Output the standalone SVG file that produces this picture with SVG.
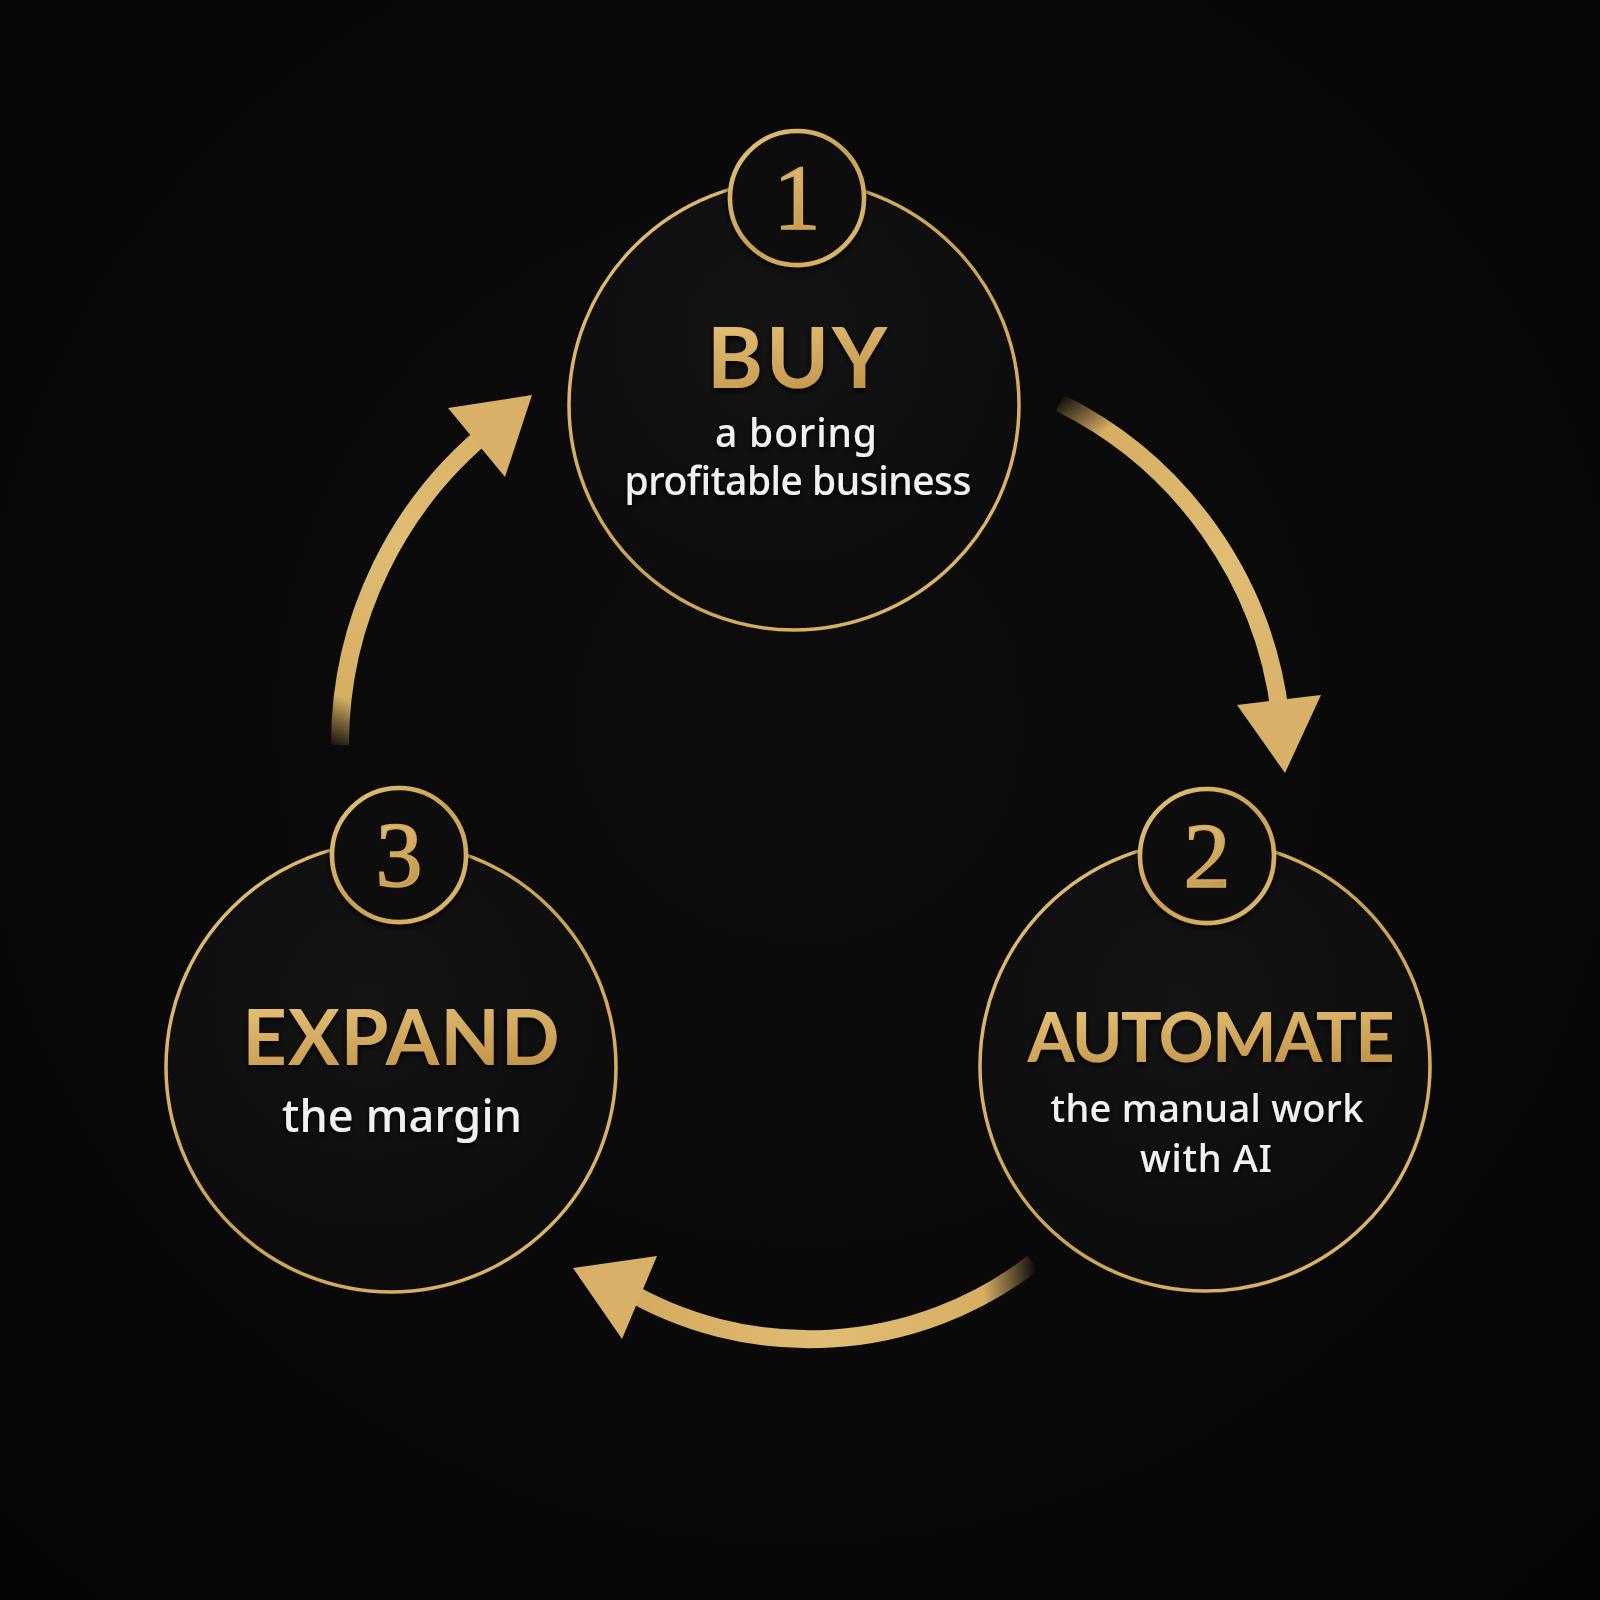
<svg xmlns="http://www.w3.org/2000/svg" width="1600" height="1600" viewBox="0 0 1600 1600">
  <defs>
    <radialGradient id="bg" cx="50%" cy="45%" r="75%">
      <stop offset="0" stop-color="#0d0d0d"/>
      <stop offset="1" stop-color="#050505"/>
    </radialGradient>
    <radialGradient id="disc" cx="45%" cy="35%" r="70%">
      <stop offset="0" stop-color="#141414"/>
      <stop offset="1" stop-color="#0b0b0b"/>
    </radialGradient>
    <linearGradient id="goldRing" x1="0" y1="0" x2="1" y2="1">
      <stop offset="0" stop-color="#e6c47c"/>
      <stop offset="0.5" stop-color="#c9a155"/>
      <stop offset="1" stop-color="#e0bb70"/>
    </linearGradient>
    <linearGradient id="goldText" x1="0" y1="0" x2="0.3" y2="1">
      <stop offset="0" stop-color="#ebc87f"/>
      <stop offset="1" stop-color="#c3954a"/>
    </linearGradient>
    <linearGradient id="fadeR" gradientUnits="userSpaceOnUse" x1="1056" y1="400" x2="1280" y2="713">
      <stop offset="0" stop-color="#d6ae62" stop-opacity="0"/>
      <stop offset="0.14" stop-color="#d6ae62" stop-opacity="1"/>
      <stop offset="0.6" stop-color="#e0bd74"/>
      <stop offset="1" stop-color="#d8b168"/>
    </linearGradient>
    <linearGradient id="fadeB" gradientUnits="userSpaceOnUse" x1="1036" y1="1260" x2="620" y2="1287">
      <stop offset="0" stop-color="#d6ae62" stop-opacity="0"/>
      <stop offset="0.13" stop-color="#d6ae62" stop-opacity="1"/>
      <stop offset="0.5" stop-color="#e0bd74"/>
      <stop offset="1" stop-color="#d2a95e"/>
    </linearGradient>
    <linearGradient id="fadeL" gradientUnits="userSpaceOnUse" x1="340" y1="752" x2="496" y2="425">
      <stop offset="0" stop-color="#d6ae62" stop-opacity="0"/>
      <stop offset="0.14" stop-color="#d6ae62" stop-opacity="1"/>
      <stop offset="0.6" stop-color="#e0bd74"/>
      <stop offset="1" stop-color="#d8b168"/>
    </linearGradient>
    <filter id="shadow" x="-20%" y="-20%" width="140%" height="140%">
      <feDropShadow dx="0" dy="3" stdDeviation="3" flood-color="#000" flood-opacity="0.85"/>
    </filter>
  </defs>
  <style>
    .disc { fill: url(#disc); stroke: url(#goldRing); stroke-width: 3.5; }
    .badge { fill: #0f0f0f; stroke: url(#goldRing); stroke-width: 4.5; }
    .num { font-family: "Liberation Serif", "DejaVu Serif", serif; font-size: 94px; fill: url(#goldText); stroke: #d2a85c; stroke-width: 1.6; text-anchor: middle; }
    .head { font-family: Lato, "Noto Sans", "Liberation Sans", sans-serif; font-weight: 700; fill: url(#goldText); text-anchor: middle; }
    .sub { font-family: "Noto Sans", Lato, "Liberation Sans", sans-serif; font-weight: 500; fill: #f1f1f1; text-anchor: middle; }
    .shaft { fill: none; stroke-width: 18; stroke-linecap: butt; }
    .head-tri { fill: #d8b068; }
  </style>

  <rect x="0" y="0" width="1600" height="1600" fill="url(#bg)"/>

  <g id="connectors">
    <path class="shaft" stroke="url(#fadeR)" d="M 1060 403 A 401 401 0 0 1 1280 713"/>
    <polygon class="head-tri" points="1237,705 1321,695 1285,773"/>
    <path class="shaft" stroke="url(#fadeB)" d="M 1033 1263 A 366 366 0 0 1 620.5 1286.7"/>
    <polygon class="head-tri" points="657,1256 622,1339 573,1268"/>
    <path class="shaft" stroke="url(#fadeL)" d="M 340 745 A 406 406 0 0 1 496 425"/>
    <polygon class="head-tri" points="448,408 532,395 505,477"/>
  </g>

  <g id="node-buy">
    <circle class="disc" cx="794" cy="405" r="225"/>
    <circle class="badge" cx="797" cy="198" r="67" filter="url(#shadow)"/>
    <text class="num" x="797" y="229">1</text>
    <text class="head" x="797" y="388" font-size="85" textLength="180" filter="url(#shadow)">BUY</text>
    <text class="sub" x="796" y="447" font-size="39" textLength="162" filter="url(#shadow)">a boring</text>
    <text class="sub" x="798" y="495" font-size="39" textLength="347" filter="url(#shadow)">profitable business</text>
  </g>

  <g id="node-automate">
    <circle class="disc" cx="1205" cy="1066" r="225"/>
    <circle class="badge" cx="1207" cy="856" r="67" filter="url(#shadow)"/>
    <text class="num" x="1207" y="887">2</text>
    <text class="head" x="1211" y="1062" font-size="68" textLength="367" filter="url(#shadow)">AUTOMATE</text>
    <text class="sub" x="1207" y="1122" font-size="38" textLength="313" filter="url(#shadow)">the manual work</text>
    <text class="sub" x="1206" y="1172" font-size="38" textLength="132" filter="url(#shadow)">with AI</text>
  </g>

  <g id="node-expand">
    <circle class="disc" cx="391" cy="1067" r="225"/>
    <circle class="badge" cx="399" cy="855" r="67" filter="url(#shadow)"/>
    <text class="num" x="399" y="886">3</text>
    <text class="head" x="401" y="1065" font-size="77" textLength="317" filter="url(#shadow)">EXPAND</text>
    <text class="sub" x="402" y="1132" font-size="45" textLength="240" filter="url(#shadow)">the margin</text>
  </g>
</svg>
